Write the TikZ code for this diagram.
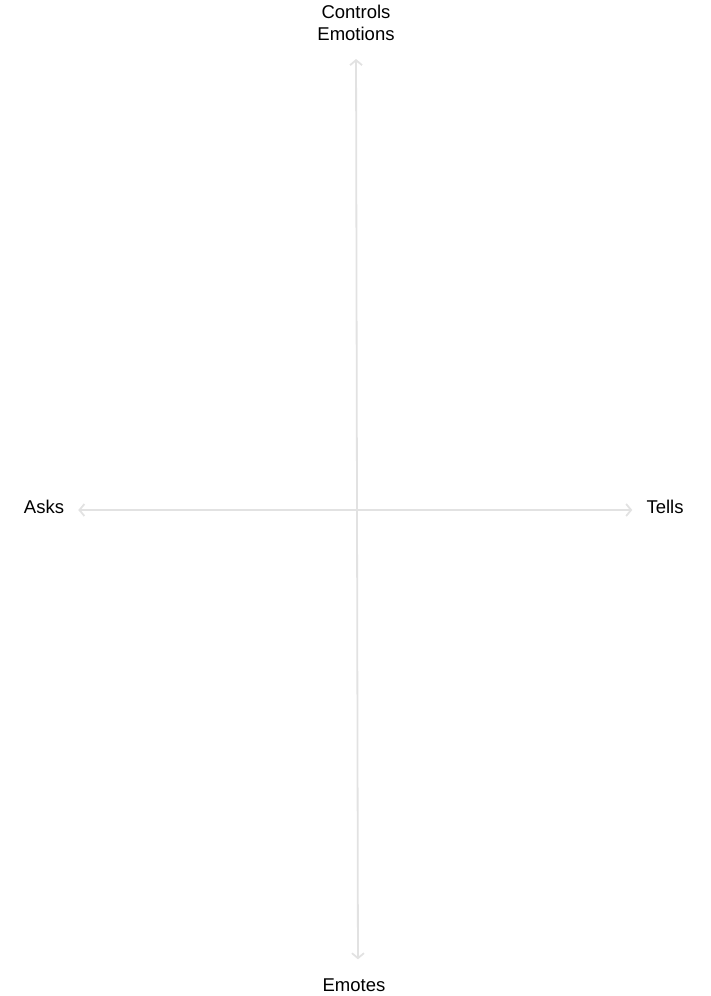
\documentclass[tikz,border=0pt]{standalone}
\usepackage{fontspec}
\setmainfont{Liberation Sans}
\usepackage{tikz}
\usetikzlibrary{arrows.meta,positioning}
\definecolor{axisgray}{RGB}{226,226,226}

\begin{document}
\begin{tikzpicture}[x=1pt,y=-1pt,
  lbl/.style={font=\fontsize{18.5}{22}\selectfont,align=center,inner sep=2pt},
  axisline/.style={draw=axisgray,line width=1.8pt,{Straight Barb[length=5pt,width=12pt]}-{Straight Barb[length=5pt,width=12pt]}}]
  \useasboundingbox (0,0) rectangle (710,996);
  \node[lbl] (ctrl) at (356,23) {Controls\\Emotions};
  \node[lbl] (emot) at (354,985) {Emotes};
  \node[lbl] (asks) at (44,507) {Asks};
  \node[lbl] (tells) at (665,507) {Tells};
  % axes
  \draw[axisline,shorten <=16pt,shorten >=17pt] (ctrl.south) -- ([xshift=4pt]emot.north);
  \draw[axisline,shorten <=12pt,shorten >=12pt] (asks.east|-0,510) -- (tells.west|-0,510);
\end{tikzpicture}
\end{document}
